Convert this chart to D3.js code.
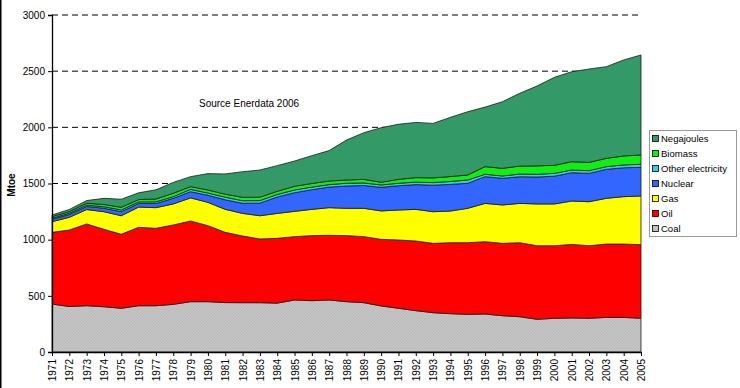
<!DOCTYPE html>
<html>
<head>
<meta charset="utf-8">
<script src="https://cdn.jsdelivr.net/npm/d3@7"></script>
<style>
  body { margin: 0; background: #fff; }
  svg { display: block; font-family: Arial, "Liberation Sans", sans-serif; }
</style>
</head>
<body>
<div id="chart"></div>
<script>
/*
DATA (Mtoe)
*/
const years = d3.range(1971, 2006);
const yTicks = [0, 500, 1000, 1500, 2000, 2500, 3000];

const coal = [427, 405, 412, 403, 389, 412, 412, 424, 448, 448, 440, 439, 439, 435, 463, 457, 463, 448, 439, 410, 389, 368, 350, 341, 335, 338, 323, 314, 291, 300, 303, 300, 308, 308, 300];
const oil = [638, 681, 728, 689, 659, 698, 689, 707, 718, 677, 625, 594, 567, 577, 564, 579, 576, 588, 588, 593, 608, 620, 617, 632, 638, 644, 644, 659, 655, 646, 655, 646, 653, 653, 655];
const gas = [95, 113, 128, 157, 165, 180, 184, 187, 206, 207, 205, 201, 207, 222, 225, 234, 246, 243, 252, 253, 267, 282, 282, 282, 306, 341, 342, 350, 372, 372, 386, 392, 407, 422, 434];
const nuclear = [22, 25, 27, 31, 36, 32, 37, 50, 55, 63, 85, 90, 112, 146, 166, 175, 183, 199, 203, 210, 216, 220, 236, 237, 223, 238, 237, 237, 240, 247, 252, 252, 258, 257, 255];
const otherElec = [9, 11, 12, 13, 15, 14, 15, 15, 21, 20, 23, 23, 23, 22, 24, 23, 22, 24, 23, 21, 22, 22, 23, 26, 29, 21, 21, 24, 24, 25, 24, 24, 24, 25, 27];
const biomass = [14, 14, 17, 20, 24, 21, 25, 30, 24, 27, 27, 30, 30, 28, 33, 32, 32, 29, 32, 24, 35, 40, 42, 44, 45, 68, 68, 71, 75, 72, 74, 74, 74, 80, 83];
const negajoules = [15, 20, 24, 55, 72, 60, 82, 97, 89, 146, 180, 228, 242, 229, 225, 248, 271, 356, 415, 486, 490, 492, 485, 527, 563, 530, 593, 648, 711, 783, 801, 831, 816, 855, 890];

const seriesNames = ["Coal", "Oil", "Gas", "Nuclear", "Other electricity", "Biomass", "Negajoules"];
const seriesValues = [coal, oil, gas, nuclear, otherElec, biomass, negajoules];
const seriesColors = ["url(#coalHatch)", "#FF0000", "#FFFF00", "#3366FF", "#33CCEE", "#11EE11", "#339966"];
const legendColors = ["#C0C0C0", "#FF0000", "#FFFF00", "#3366FF", "#33CCEE", "#11EE11", "#339966"];

/*
SET UP
*/
const w = 740;
const h = 388;
const plot = { left: 52, right: 641, top: 15, bottom: 352 };

const svg = d3.select("#chart")
  .append("svg")
  .attr("width", w)
  .attr("height", h);

// fine texture for the coal layer
const pat = svg.append("defs")
  .append("pattern")
  .attr("id", "coalHatch")
  .attr("patternUnits", "userSpaceOnUse")
  .attr("width", 3)
  .attr("height", 3);
pat.append("rect").attr("width", 3).attr("height", 3).attr("fill", "#C4C4C4");
pat.append("path").attr("d", "M0,3 L3,0").attr("stroke", "#B6B6B6").attr("stroke-width", 0.7);

// left frame edge
svg.append("rect")
  .attr("x", 0).attr("y", 0)
  .attr("width", 1.5).attr("height", h)
  .attr("fill", "#000");

const x = d3.scaleLinear().domain([1971, 2005]).range([plot.left, plot.right]);
const y = d3.scaleLinear().domain([0, 3000]).range([plot.bottom, plot.top]);

/*
GRIDLINES
*/
svg.append("g")
  .selectAll("line")
  .data(yTicks.filter((d) => d > 0))
  .join("line")
  .attr("x1", plot.left)
  .attr("x2", plot.right)
  .attr("y1", (d) => y(d))
  .attr("y2", (d) => y(d))
  .attr("stroke", "#000")
  .attr("stroke-width", 1)
  .attr("stroke-dasharray", "6,4");

/*
STACKED AREAS
*/
const table = years.map((yr, i) => {
  const row = { year: yr };
  seriesNames.forEach((name, k) => (row[name] = seriesValues[k][i]));
  return row;
});

const stacked = d3.stack().keys(seriesNames)(table);

const area = d3.area()
  .x((d) => x(d.data.year))
  .y0((d) => y(d[0]))
  .y1((d) => y(d[1]));

svg.append("g")
  .selectAll("path")
  .data(stacked)
  .join("path")
  .attr("d", area)
  .attr("fill", (d, i) => seriesColors[i])
  .attr("stroke", "#1a1a1a")
  .attr("stroke-width", 0.8)
  .attr("stroke-linejoin", "round");

/*
AXES
*/
const yAxis = svg.append("g")
  .attr("transform", `translate(${plot.left},0)`)
  .call(d3.axisLeft(y).tickValues(yTicks).tickFormat(d3.format("d")).tickSize(4).tickPadding(3));

const xAxis = svg.append("g")
  .attr("transform", `translate(0,${plot.bottom})`)
  .call(d3.axisBottom(x).tickValues(years).tickFormat(d3.format("d")).tickSize(4).tickSizeOuter(0));

[yAxis, xAxis].forEach((g) => {
  g.select(".domain").attr("stroke", "#000").attr("stroke-width", 1.3);
  g.selectAll(".tick line").attr("stroke", "#000");
  g.selectAll("text").attr("font-size", 10).attr("fill", "#000")
    .attr("font-family", "Arial, 'Liberation Sans', sans-serif");
});

xAxis.selectAll("text")
  .attr("transform", "rotate(-90)")
  .attr("text-anchor", "end")
  .attr("x", -7)
  .attr("y", 0)
  .attr("dy", "0.35em");

svg.append("text")
  .attr("transform", `translate(15,185) rotate(-90)`)
  .attr("text-anchor", "middle")
  .attr("font-size", 10)
  .attr("font-weight", "bold")
  .text("Mtoe");

svg.append("text")
  .attr("x", 199)
  .attr("y", 107)
  .attr("font-size", 10)
  .text("Source Enerdata 2006");

/*
LEGEND
*/
const legend = svg.append("g");
legend.append("rect")
  .attr("x", 649.5).attr("y", 130.5)
  .attr("width", 87).attr("height", 106)
  .attr("fill", "#fff")
  .attr("stroke", "#999")
  .attr("stroke-width", 1);

const items = legend.selectAll("g.item")
  .data(seriesNames.map((n, i) => ({ name: n, color: legendColors[i] })).reverse())
  .join("g")
  .attr("class", "item")
  .attr("transform", (d, i) => `translate(652,${139 + i * 15})`);

items.append("rect")
  .attr("x", 0.5).attr("y", -3.5)
  .attr("width", 6).attr("height", 6)
  .attr("fill", (d) => d.color)
  .attr("stroke", "#000")
  .attr("stroke-width", 0.8);

items.append("text")
  .attr("x", 9)
  .attr("y", 0)
  .attr("dy", "0.35em")
  .attr("font-size", 9.5)
  .text((d) => d.name);
</script>
</body>
</html>
